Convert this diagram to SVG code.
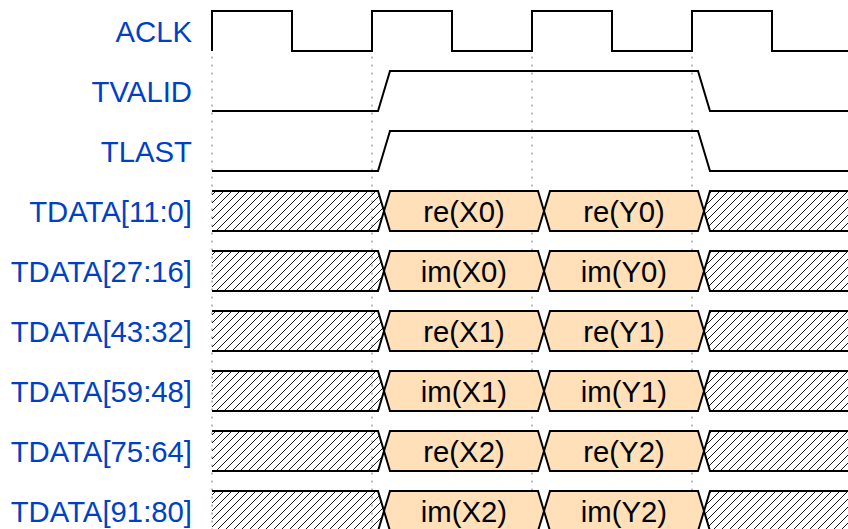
<svg xmlns="http://www.w3.org/2000/svg" width="848" height="529" viewBox="0 0 848 529">
<defs>
<pattern id="hatch" patternUnits="userSpaceOnUse" x="0" y="0" width="8" height="8">
<path d="M-2,2 L2,-2 M0,8 L8,0 M6,10 L10,6" stroke="#000" stroke-width="0.9"/>
</pattern>
</defs>
<style>
.lbl{font-family:"Liberation Sans",Arial,sans-serif;font-size:29.3px;fill:#0041c4;text-anchor:end}
.val{font-family:"Liberation Sans",Arial,sans-serif;font-size:29.3px;fill:#000;text-anchor:middle}
.w{fill:none;stroke:#000;stroke-width:2}
.x{fill:url(#hatch);stroke:#000;stroke-width:2}
.d{fill:#ffe0b9;stroke:#000;stroke-width:2}
.g{stroke:#bbb;stroke-width:2;stroke-dasharray:2 6}
</style>
<rect width="848" height="529" fill="#fff"/>
<g id="grid">
<line class="g" x1="212" y1="56.5" x2="212" y2="529"/>
<line class="g" x1="372" y1="56.5" x2="372" y2="529"/>
<line class="g" x1="532" y1="56.5" x2="532" y2="529"/>
<line class="g" x1="692" y1="56.5" x2="692" y2="529"/>
</g>
<g id="aclk">
<text class="lbl" x="192" y="41.5">ACLK</text>
<path class="w" d="M212,51 V11 H292 V51 H372 V11 H452 V51 H532 V11 H612 V51 H692 V11 H772 V51 H850"/>
</g>
<g id="tvalid">
<text class="lbl" x="192" y="101.5">TVALID</text>
<path class="w" d="M212,111 H378 L390,71 H698 L710,111 H850"/>
</g>
<g id="tlast">
<text class="lbl" x="192" y="161.5">TLAST</text>
<path class="w" d="M212,171 H378 L390,131 H698 L710,171 H850"/>
</g>
<g id="tdata0" transform="translate(0,191)">
<text class="lbl" x="192" y="30.5">TDATA[11:0]</text>
<path class="x" d="M212,0 H378 L384,20 L378,40 H212"/>
<path class="d" d="M384,20 L390,0 H538 L544,20 L538,40 H390 Z"/>
<path class="d" d="M544,20 L550,0 H698 L704,20 L698,40 H550 Z"/>
<path class="x" d="M850,0 H710 L704,20 L710,40 H850"/>
<text class="val" x="464" y="30.5">re(X0)</text>
<text class="val" x="624" y="30.5">re(Y0)</text>
</g>
<g id="tdata1" transform="translate(0,251)">
<text class="lbl" x="192" y="30.5">TDATA[27:16]</text>
<path class="x" d="M212,0 H378 L384,20 L378,40 H212"/>
<path class="d" d="M384,20 L390,0 H538 L544,20 L538,40 H390 Z"/>
<path class="d" d="M544,20 L550,0 H698 L704,20 L698,40 H550 Z"/>
<path class="x" d="M850,0 H710 L704,20 L710,40 H850"/>
<text class="val" x="464" y="30.5">im(X0)</text>
<text class="val" x="624" y="30.5">im(Y0)</text>
</g>
<g id="tdata2" transform="translate(0,311)">
<text class="lbl" x="192" y="30.5">TDATA[43:32]</text>
<path class="x" d="M212,0 H378 L384,20 L378,40 H212"/>
<path class="d" d="M384,20 L390,0 H538 L544,20 L538,40 H390 Z"/>
<path class="d" d="M544,20 L550,0 H698 L704,20 L698,40 H550 Z"/>
<path class="x" d="M850,0 H710 L704,20 L710,40 H850"/>
<text class="val" x="464" y="30.5">re(X1)</text>
<text class="val" x="624" y="30.5">re(Y1)</text>
</g>
<g id="tdata3" transform="translate(0,371)">
<text class="lbl" x="192" y="30.5">TDATA[59:48]</text>
<path class="x" d="M212,0 H378 L384,20 L378,40 H212"/>
<path class="d" d="M384,20 L390,0 H538 L544,20 L538,40 H390 Z"/>
<path class="d" d="M544,20 L550,0 H698 L704,20 L698,40 H550 Z"/>
<path class="x" d="M850,0 H710 L704,20 L710,40 H850"/>
<text class="val" x="464" y="30.5">im(X1)</text>
<text class="val" x="624" y="30.5">im(Y1)</text>
</g>
<g id="tdata4" transform="translate(0,431)">
<text class="lbl" x="192" y="30.5">TDATA[75:64]</text>
<path class="x" d="M212,0 H378 L384,20 L378,40 H212"/>
<path class="d" d="M384,20 L390,0 H538 L544,20 L538,40 H390 Z"/>
<path class="d" d="M544,20 L550,0 H698 L704,20 L698,40 H550 Z"/>
<path class="x" d="M850,0 H710 L704,20 L710,40 H850"/>
<text class="val" x="464" y="30.5">re(X2)</text>
<text class="val" x="624" y="30.5">re(Y2)</text>
</g>
<g id="tdata5" transform="translate(0,491)">
<text class="lbl" x="192" y="30.5">TDATA[91:80]</text>
<path class="x" d="M212,0 H378 L384,20 L378,40 H212"/>
<path class="d" d="M384,20 L390,0 H538 L544,20 L538,40 H390 Z"/>
<path class="d" d="M544,20 L550,0 H698 L704,20 L698,40 H550 Z"/>
<path class="x" d="M850,0 H710 L704,20 L710,40 H850"/>
<text class="val" x="464" y="30.5">im(X2)</text>
<text class="val" x="624" y="30.5">im(Y2)</text>
</g>
</svg>
